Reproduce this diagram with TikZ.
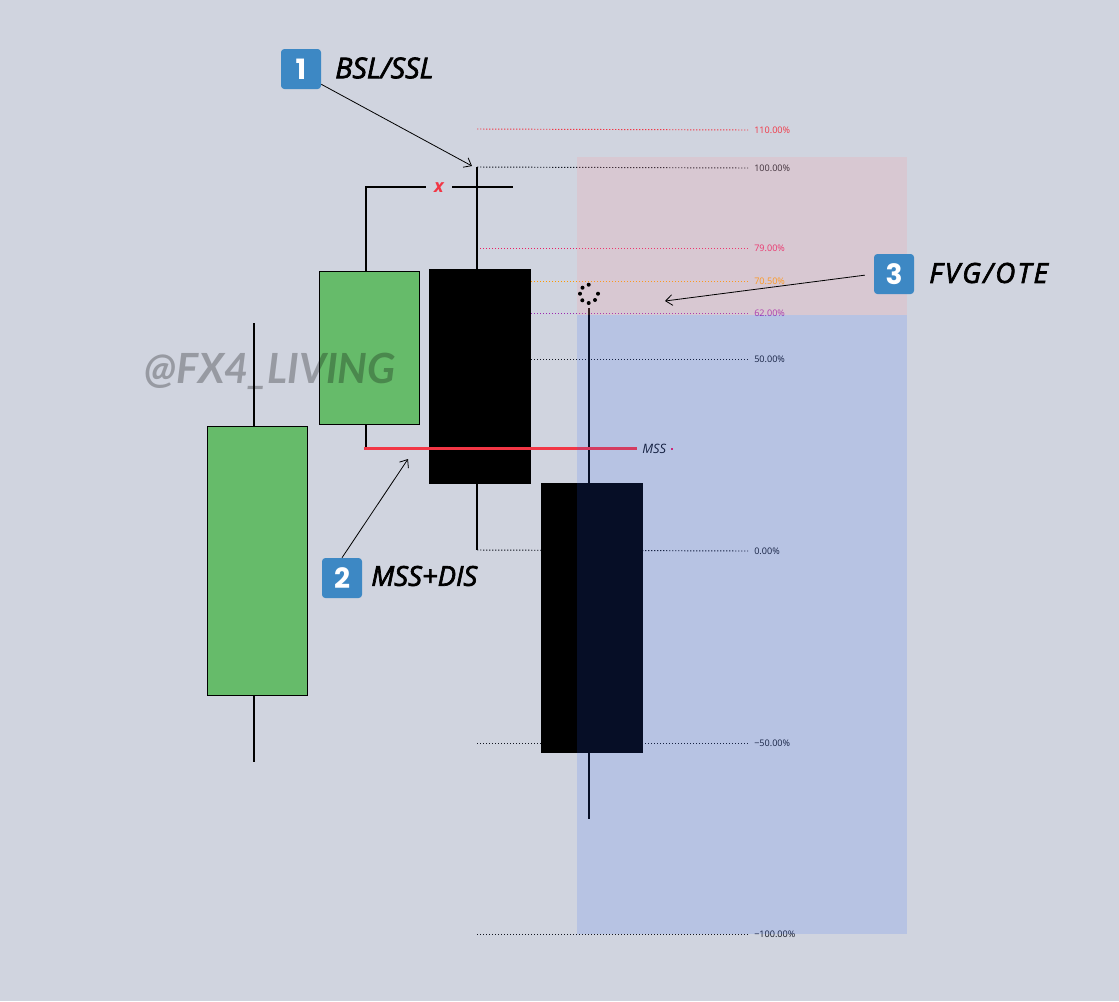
\documentclass[tikz,border=0pt]{standalone}
\usepackage{fontspec}
\setmainfont{Open Sans}
\newfontfamily\markfont{Lato}
\newfontfamily\badgefont{Poppins}
\newfontfamily\tagfont[FakeBold=2.5]{Open Sans}
\newfontfamily\tagwidefont[FakeBold=2.5, LetterSpace=8]{Open Sans}
\usepackage{xcolor}
\usepackage{tikz}
\usetikzlibrary{arrows.meta}
\definecolor{pagebg}{HTML}{D0D4DF}
\definecolor{upgreen}{HTML}{66BB6A}
\definecolor{badgeblue}{HTML}{3D88C4}
\definecolor{mssred}{HTML}{F23645}
\definecolor{zoneblue}{HTML}{2962FF}
\definecolor{zonepink}{HTML}{F8989E}
\definecolor{levelink}{HTML}{131722}
\definecolor{levelpink}{HTML}{E91E63}
\definecolor{levelorange}{HTML}{FF9800}
\definecolor{levelpurple}{HTML}{9C27B0}
\tikzset{
    candleup/.style={draw=black, fill=upgreen, line width=0.75pt, inner sep=0pt},
    candledown/.style={fill=black, inner sep=0pt},
    wick/.style={line width=1.5pt},
    level/.style={line width=0.7pt, dash pattern=on 1.1pt off 1.15pt},
    levellabel/.style={anchor=west, inner sep=0pt, font=\fontsize{6.8pt}{8pt}\selectfont},
    badge/.style={fill=badgeblue, rounded corners=2.5pt, minimum size=30pt, inner sep=0pt, text=white, font=\fontsize{21pt}{24pt}\badgefont\bfseries},
    tag/.style={anchor=west, inner sep=0pt, font=\fontsize{#1}{24pt}\tagfont\itshape},
    tagwide/.style={anchor=west, inner sep=0pt, font=\fontsize{#1}{24pt}\tagwidefont\itshape},
    callout/.style={line width=0.6pt, -{Straight Barb[length=5pt, width=8pt]}},
    spinner/.style={circle, fill=black, minimum size=3pt, inner sep=0pt}
}
\begin{document}
\begin{tikzpicture}[x=0.75pt, y=-0.75pt]
            \useasboundingbox (0, 0) rectangle (1119, 1001);
            \fill[pagebg] (0, 0) rectangle (1119, 1001);

            \coordinate (L110) at (477, 129);
            \coordinate (L100) at (477, 167);
            \coordinate (L79) at (477, 248);
            \coordinate (L705) at (477, 281);
            \coordinate (L62) at (477, 313);
            \coordinate (L50) at (477, 359);
            \coordinate (L0) at (477, 550);
            \coordinate (Lm50) at (477, 743);
            \coordinate (Lm100) at (477, 934);

            \node[levellabel, text=mssred] (T110) at (754, 130) {110.00\%};
            \node[levellabel, text=levelink] (T100) at (754, 168) {100.00\%};
            \node[levellabel, text=levelpink] (T79) at (754, 248) {79.00\%};
            \node[levellabel, text=levelorange] (T705) at (754, 281) {70.50\%};
            \node[levellabel, text=levelpurple] (T62) at (754, 313) {62.00\%};
            \node[levellabel, text=levelink] (T50) at (754, 359) {50.00\%};
            \node[levellabel, text=levelink] (T0) at (754, 551) {0.00\%};
            \node[levellabel, text=levelink] (Tm50) at (754, 743) {−50.00\%};
            \node[levellabel, text=levelink] (Tm100) at (754, 934) {−100.00\%};

            \path [level, draw=mssred] (L110) edge[mssred] ([xshift=-4.5pt]T110.west);
            \path [level] (L100) edge[levelink] ([xshift=-4.5pt]T100.west);
            \path [level] (L79) edge[levelpink] ([xshift=-4.5pt]T79.west);
            \path [level] (L705) edge[levelorange] ([xshift=-4.5pt]T705.west);
            \path [level] (L62) edge[levelpurple] ([xshift=-4.5pt]T62.west);
            \path [level] (L50) edge[levelink] ([xshift=-4.5pt]T50.west);
            \path [level] (L0) edge[levelink] ([xshift=-4.5pt]T0.west);
            \path [level] (Lm50) edge[levelink] ([xshift=-4.5pt]Tm50.west);
            \path [level] (Lm100) edge[levelink] ([xshift=-4.5pt]Tm100.west);

            \coordinate (Atop) at (254, 323);
            \coordinate (Abot) at (254, 762);
            \coordinate (Btop) at (366, 187);
            \coordinate (Bbot) at (366, 448);
            \coordinate (Ctop) at (477, 167);
            \coordinate (Cbot) at (477, 550);
            \coordinate (Dtop) at (589, 308);
            \coordinate (Dbot) at (589, 819);

            \path [wick] (Atop) edge (Abot);
            \path [wick] (Btop) edge (Bbot);
            \path [wick] (Ctop) edge (Cbot);
            \path [wick] (Dtop) edge (Dbot);

            \node[candleup, minimum width=75pt, minimum height=201.75pt] (A) at (257, 560.5) {};
            \node[candleup, minimum width=75pt, minimum height=115.1pt] (B) at (369.5, 347.75) {};
            \node[candledown, minimum width=76.5pt, minimum height=161.25pt] (C) at (480, 376.5) {};
            \node[candledown, minimum width=76.5pt, minimum height=202.5pt] (D) at (592, 618) {};

            \node[text=mssred, inner sep=0pt, font=\fontsize{13.5pt}{14pt}\selectfont\bfseries\itshape] (X) at (439, 188) {x};
            \coordinate (Bcorner) at (365, 187);
            \coordinate (Xleft) at (426, 187);
            \coordinate (Xright) at (452, 187);
            \coordinate (Xend) at (513, 187);
            \path [wick] (Bcorner) edge (Xleft);
            \path [wick] (Xright) edge (Xend);

            \node[anchor=west, inner sep=0pt, text=levelink, font=\fontsize{9.7pt}{11pt}\selectfont\itshape] (M) at (642, 448.5) {MSS};
            \node[fill=levelpink, minimum size=1.5pt, inner sep=0pt] (Mdot) at (671.5, 448.5) {};
            \coordinate (Mstart) at (364, 448);
            \coordinate (Mend) at (637, 448);
            \path [line width=2.25pt] (Mstart) edge[mssred] (Mend);

            \fill[zoneblue, opacity=0.15] (577, 315) rectangle (907, 934);
            \fill[zonepink, opacity=0.2] (577, 157) rectangle (907, 315);

            \node[text=black, opacity=0.27, inner sep=0pt, font=\fontsize{31.2pt}{36pt}\markfont\bfseries\itshape] (W) at (270, 371) {@FX4\_LIVING};

            \node[spinner] (S1) at (588.7, 284.7) {};
            \node[spinner] (S2) at (582.5, 287.7) {};
            \node[spinner] (S3) at (580, 293.7) {};
            \node[spinner] (S4) at (582.3, 300.3) {};
            \node[spinner] (S5) at (588.7, 303) {};
            \node[spinner] (S6) at (595, 300) {};
            \node[spinner] (S7) at (598, 293.7) {};

            \node[badge] (N1) at (301, 69) {1};
            \node[badge] (N2) at (342, 578) {2};
            \node[badge] (N3) at (894, 274) {3};

            \node[tag=21.5pt] (T1) at (335, 68) {BSL/SSL};
            \node[tag=20.6pt] (T2) at (371, 576) {MSS+DIS};
            \node[tagwide=20.8pt] (T3) at (929, 273) {FVG/OTE};

            \coordinate (P1) at (472, 166);
            \coordinate (P2) at (408, 459);
            \coordinate (P3) at (665, 301);

            \path [callout] (N1.-37) edge (P1);
            \path [callout] (N2.north) edge (P2);
            \path [callout, shorten <=6.75pt] (N3.west) edge (P3);
        \end{tikzpicture}
\end{document}
